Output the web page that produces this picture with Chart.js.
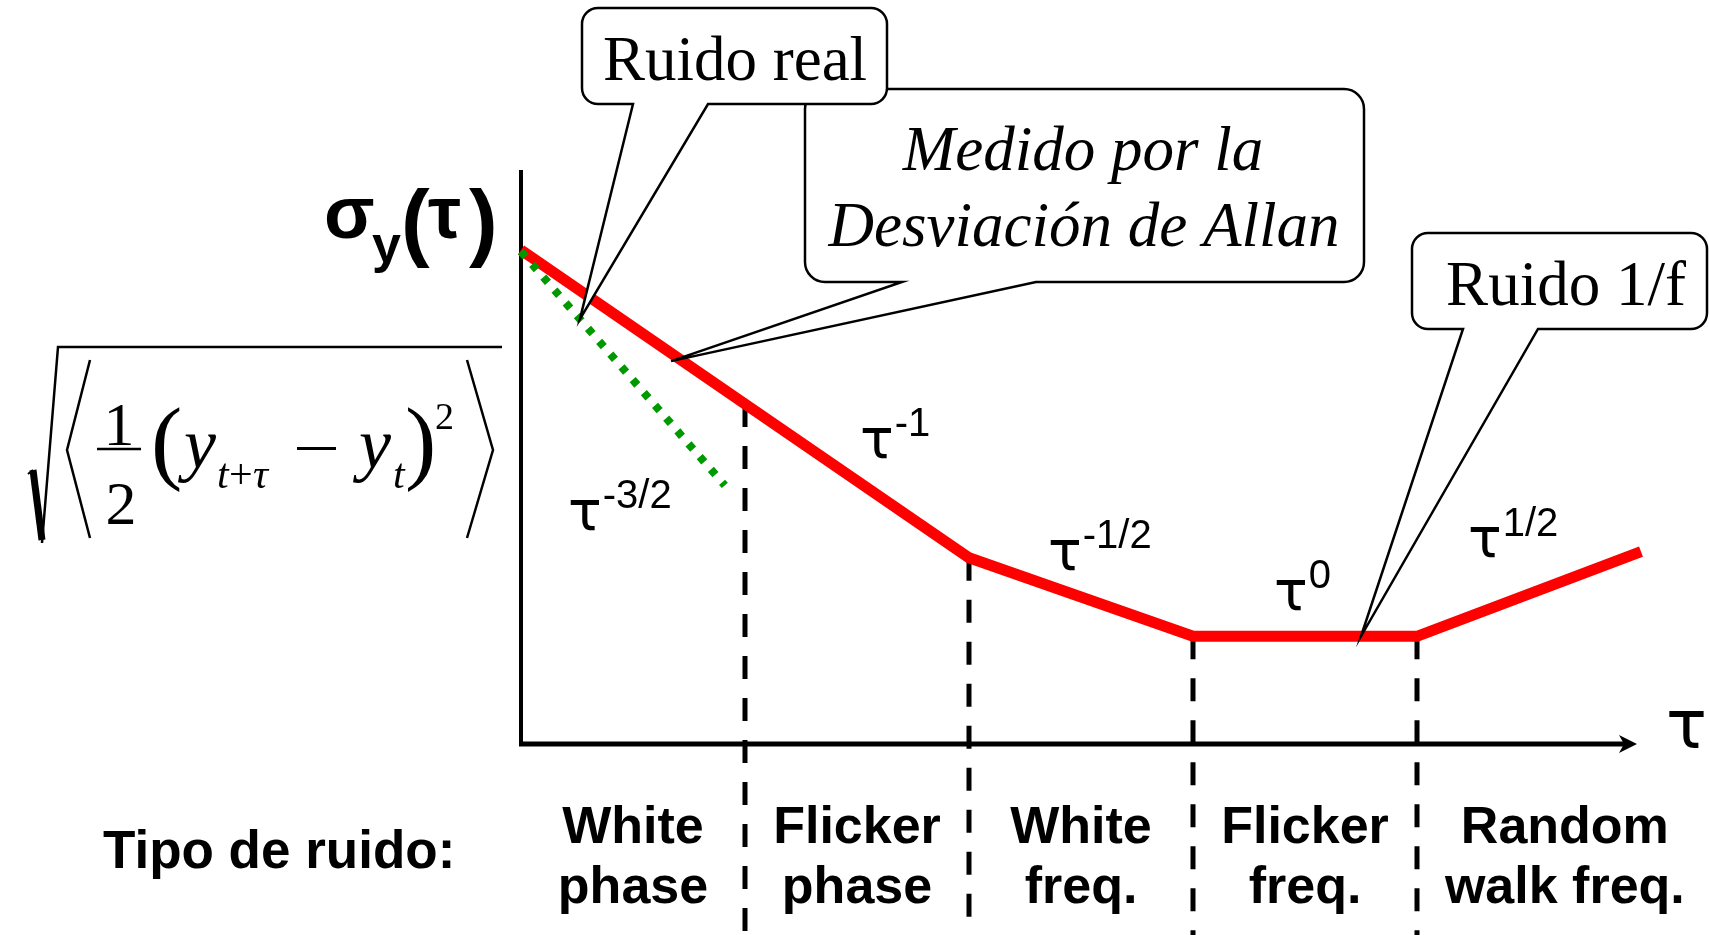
<!DOCTYPE html>
<html>
<head>
<meta charset="utf-8">
<script src="https://cdn.jsdelivr.net/npm/chart.js@4/dist/chart.umd.min.js"></script>
<style>
  html, body { margin: 0; padding: 0; background: #fff; overflow: hidden; }
  #wrap { width: 1709px; height: 935px; }
</style>
</head>
<body>
<div id="wrap"><canvas id="c" width="1709" height="935"></canvas></div>
<script>
// log(tau) at the ends of each segment: one unit per noise regime
const tauPoints = [0, 1, 2, 3, 4, 5];
// log(sigma_y) of the measured Allan deviation at those points
const sigmaPoints = [3.21, 2.21, 1.21, 0.70, 0.70, 1.25];
// the real white-phase behaviour (tau^-3/2), dotted
const realTau = [0, 0.91];
const realSigma = [3.20, 1.68];
// regime boundaries (dashed verticals)
const boundaryTau = [1, 2, 3, 4];
const boundaryTop = [2.21, 1.21, 0.70, 0.70];
const boundaryBottom = -1.25;
// slope exponents written along the curve
const slopeExponents = ['-3/2', '-1', '-1/2', '0', '1/2'];
// noise regimes written under the axis
const noiseTypes = [
  ['White', 'phase'],
  ['Flicker', 'phase'],
  ['White', 'freq.'],
  ['Flicker', 'freq.'],
  ['Random', 'walk freq.']
];
const noiseTitle = 'Tipo de ruido:';
const callouts = {
  real: 'Ruido real',
  allan: ['Medido por la', 'Desviación de Allan'],
  flicker: 'Ruido 1/f'
};

const SANS = '"Liberation Sans", Arial, sans-serif';
const GREEK = '"DejaVu Sans", "Liberation Sans", sans-serif';
const SERIF = '"Liberation Serif", "Times New Roman", serif';

const pts = (xs, ys) => xs.map((x, i) => ({ x: x, y: ys[i] }));

const datasets = [];
datasets.push({
  label: 'real',
  data: pts(realTau, realSigma),
  borderColor: '#009900',
  borderWidth: 8,
  borderDash: [7, 10],
  borderCapStyle: 'butt',
  pointRadius: 0,
  clip: false,
  order: 0
});
datasets.push({
  label: 'allan',
  data: pts(tauPoints, sigmaPoints),
  borderColor: '#ff0000',
  borderWidth: 11,
  borderJoinStyle: 'miter',
  borderCapStyle: 'butt',
  pointRadius: 0,
  clip: false,
  order: 1
});
boundaryTau.forEach((t, i) => {
  datasets.push({
    label: 'b' + i,
    data: [{ x: t, y: boundaryTop[i] }, { x: t, y: boundaryBottom }],
    borderColor: '#000',
    borderWidth: 5,
    borderDash: [23, 19],
    borderCapStyle: 'butt',
    pointRadius: 0,
    clip: false,
    order: 2
  });
});

function txt(ctx, s, x, y, font, align) {
  ctx.font = font;
  ctx.textAlign = align || 'left';
  ctx.textBaseline = 'alphabetic';
  ctx.fillText(s, x, y);
}

function bubble(ctx, x0, y0, x1, y1, r, tl, tr, tip) {
  ctx.beginPath();
  ctx.moveTo(x0 + r, y0);
  ctx.lineTo(x1 - r, y0);
  ctx.arcTo(x1, y0, x1, y0 + r, r);
  ctx.lineTo(x1, y1 - r);
  ctx.arcTo(x1, y1, x1 - r, y1, r);
  ctx.lineTo(tr, y1);
  ctx.lineTo(tip.x, tip.y);
  ctx.lineTo(tl, y1);
  ctx.lineTo(x0 + r, y1);
  ctx.arcTo(x0, y1, x0, y1 - r, r);
  ctx.lineTo(x0, y0 + r);
  ctx.arcTo(x0, y0, x0 + r, y0, r);
  ctx.closePath();
  ctx.fillStyle = '#fff';
  ctx.fill();
  ctx.lineWidth = 2.5;
  ctx.strokeStyle = '#000';
  ctx.lineJoin = 'miter';
  ctx.stroke();
}

function lerp(xs, ys, x) {
  for (let i = 0; i < xs.length - 1; i++) {
    if (x >= xs[i] && x <= xs[i + 1]) {
      const f = (x - xs[i]) / (xs[i + 1] - xs[i]);
      return ys[i] + f * (ys[i + 1] - ys[i]);
    }
  }
  return ys[ys.length - 1];
}

const axesPlugin = {
  id: 'axes',
  beforeDatasetsDraw(chart) {
    const ctx = chart.ctx, a = chart.chartArea;
    const sx = chart.scales.x;
    ctx.save();
    ctx.strokeStyle = '#000';
    ctx.fillStyle = '#000';
    ctx.lineCap = 'butt';
    // vertical axis
    ctx.lineWidth = 4;
    ctx.beginPath();
    ctx.moveTo(a.left, a.top);
    ctx.lineTo(a.left, a.bottom + 2);
    ctx.stroke();
    // horizontal axis with arrow head
    const tipX = sx.getPixelForValue(5) - 4;
    ctx.lineWidth = 5;
    ctx.beginPath();
    ctx.moveTo(a.left - 2, a.bottom);
    ctx.lineTo(tipX - 10, a.bottom);
    ctx.stroke();
    ctx.beginPath();
    ctx.moveTo(tipX, a.bottom);
    ctx.lineTo(tipX - 18, a.bottom - 9);
    ctx.lineTo(tipX - 13, a.bottom);
    ctx.lineTo(tipX - 18, a.bottom + 9);
    ctx.closePath();
    ctx.fill();
    ctx.restore();
  }
};

const notesPlugin = {
  id: 'notes',
  afterDatasetsDraw(chart) {
    const ctx = chart.ctx;
    const sx = chart.scales.x, sy = chart.scales.y;
    ctx.save();
    ctx.fillStyle = '#000';

    // axis names
    txt(ctx, 'τ', 1666, 748, '68px ' + GREEK);
    txt(ctx, 'σ', 324, 238, 'bold 74px ' + SANS);
    txt(ctx, 'y', 372, 262, 'bold 52px ' + SANS);
    txt(ctx, '(', 401, 250, 'bold 86px ' + SANS);
    txt(ctx, 'τ', 428, 238, 'bold 74px ' + SANS);
    txt(ctx, ')', 469, 250, 'bold 86px ' + SANS);

    // definition under the name: sqrt < 1/2 (y_{t+tau} - y_t)^2 >
    ctx.strokeStyle = '#000';
    ctx.lineJoin = 'miter';
    ctx.lineCap = 'butt';
    ctx.lineWidth = 2;
    ctx.beginPath();
    ctx.moveTo(28, 474); ctx.lineTo(33, 470);
    ctx.stroke();
    ctx.lineWidth = 7;
    ctx.beginPath();
    ctx.moveTo(33, 470); ctx.lineTo(42, 540);
    ctx.stroke();
    ctx.lineWidth = 2.5;
    ctx.beginPath();
    ctx.moveTo(42, 543); ctx.lineTo(58, 347); ctx.lineTo(502, 347);
    ctx.stroke();
    ctx.beginPath();
    ctx.moveTo(90, 360); ctx.lineTo(67, 450); ctx.lineTo(90, 538);
    ctx.moveTo(467, 360); ctx.lineTo(493, 450); ctx.lineTo(467, 538);
    ctx.stroke();
    txt(ctx, '1', 119, 445, '62px ' + SERIF, 'center');
    ctx.beginPath();
    ctx.moveTo(97, 449); ctx.lineTo(141, 449);
    ctx.stroke();
    txt(ctx, '2', 121, 524, '62px ' + SERIF, 'center');
    txt(ctx, '(', 151, 472, '94px ' + SERIF);
    txt(ctx, 'y', 184, 468, 'italic 72px ' + SERIF);
    txt(ctx, 't', 217, 488, 'italic 42px ' + SERIF);
    txt(ctx, '+', 229, 488, '42px ' + SERIF);
    txt(ctx, 'τ', 253, 488, 'italic 42px ' + SERIF);
    ctx.fillRect(297, 447, 39, 3);
    txt(ctx, 'y', 359, 468, 'italic 72px ' + SERIF);
    txt(ctx, 't', 393, 488, 'italic 42px ' + SERIF);
    txt(ctx, ')', 405, 472, '94px ' + SERIF);
    txt(ctx, '2', 435, 429, '38px ' + SERIF);

    // slope labels
    const slopeAt = [[568, 530, 508], [860, 458, 436], [1048, 570, 548], [1274, 610, 588], [1468, 557, 536]];
    slopeExponents.forEach((e, i) => {
      const [x, yb, ys] = slopeAt[i];
      ctx.font = '56px ' + GREEK;
      const w = ctx.measureText('τ').width;
      txt(ctx, 'τ', x, yb, '56px ' + GREEK);
      txt(ctx, e, x + w + 1, ys, '40px ' + SANS);
    });

    // noise regime names
    txt(ctx, noiseTitle, 103, 868, 'bold 53px ' + SANS);
    const centers = [0.5, 1.5, 2.5, 3.5, 4.66];
    noiseTypes.forEach((lines, i) => {
      const cx = sx.getPixelForValue(centers[i]);
      txt(ctx, lines[0], cx, 843, 'bold 52px ' + SANS, 'center');
      txt(ctx, lines[1], cx, 903, 'bold 52px ' + SANS, 'center');
    });

    // speech bubbles
    const realTipX = 0.263;
    const realTip = { x: sx.getPixelForValue(realTipX), y: sy.getPixelForValue(lerp(realTau, realSigma, realTipX)) };
    const allanTipX = 0.67;
    const allanTip = { x: sx.getPixelForValue(allanTipX), y: sy.getPixelForValue(lerp(tauPoints, sigmaPoints, allanTipX)) + 8 };
    const flickTipX = 3.75;
    const flickTip = { x: sx.getPixelForValue(flickTipX), y: sy.getPixelForValue(lerp(tauPoints, sigmaPoints, flickTipX)) };

    bubble(ctx, 805, 89, 1364, 282, 20, 902, 1036, allanTip);
    ctx.fillStyle = '#000';
    txt(ctx, callouts.allan[0], 1083, 170, 'italic 63px ' + SERIF, 'center');
    txt(ctx, callouts.allan[1], 1084, 246, 'italic 63px ' + SERIF, 'center');

    bubble(ctx, 582, 8, 887, 104, 16, 633, 708, realTip);
    ctx.fillStyle = '#000';
    txt(ctx, callouts.real, 735, 80, '63px ' + SERIF, 'center');

    bubble(ctx, 1412, 233, 1707, 329, 16, 1463, 1538, flickTip);
    ctx.fillStyle = '#000';
    txt(ctx, callouts.flicker, 1566, 305, '63px ' + SERIF, 'center');

    ctx.restore();
  }
};

new Chart(document.getElementById('c'), {
  type: 'line',
  data: { datasets: datasets },
  options: {
    responsive: false,
    animation: false,
    devicePixelRatio: 1,
    layout: { padding: { left: 521, right: 68, top: 170, bottom: 191 } },
    plugins: { legend: { display: false }, tooltip: { enabled: false } },
    scales: {
      x: { type: 'linear', min: 0, max: 5, display: false },
      y: { type: 'linear', min: 0, max: 3.73, display: false }
    }
  },
  plugins: [axesPlugin, notesPlugin]
});
</script>
</body>
</html>
